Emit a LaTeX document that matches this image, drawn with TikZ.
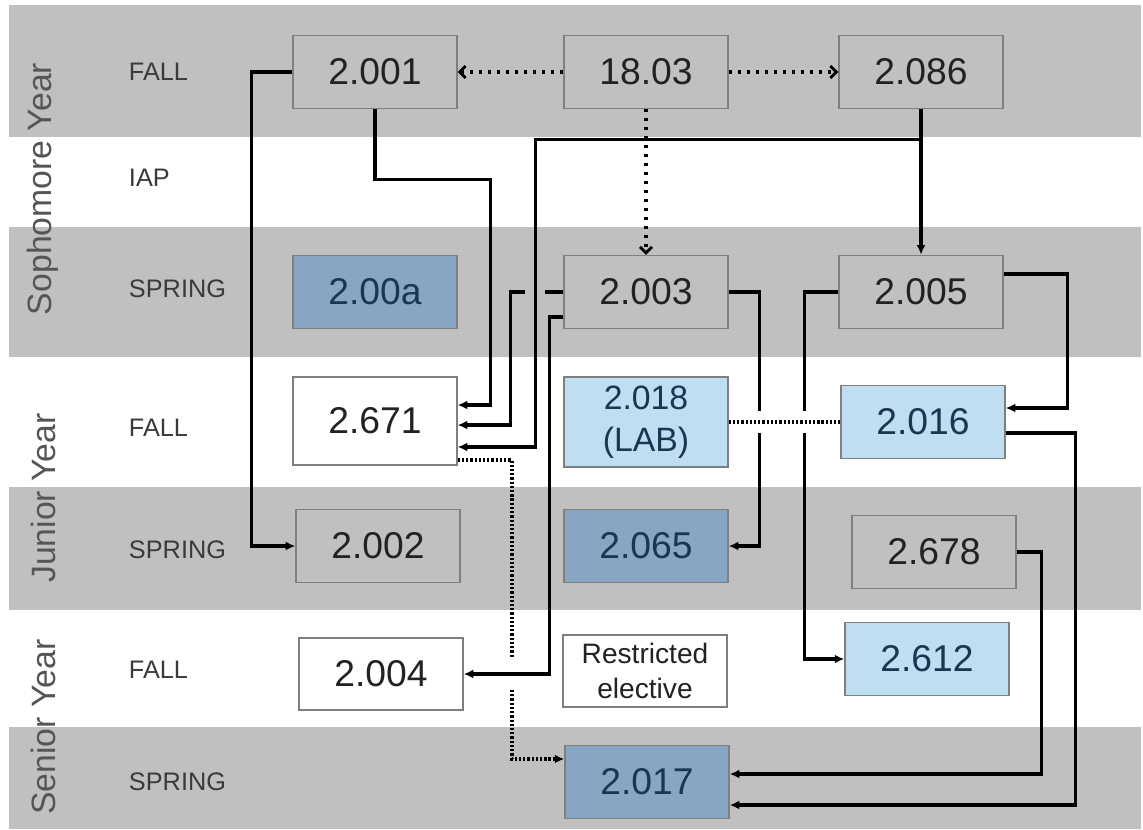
\documentclass[tikz,border=0pt]{standalone}
\usepackage{fontspec}
\setmainfont{Liberation Sans}
\usetikzlibrary{arrows.meta,calc}
\definecolor{band}{HTML}{C0C0C0}
\definecolor{edge}{HTML}{7F7F7F}
\definecolor{darkblue}{HTML}{86A6C3}
\definecolor{lightblue}{HTML}{BEDEF2}
\definecolor{navy}{HTML}{1C3550}
\definecolor{ink}{HTML}{222222}
\definecolor{termcol}{HTML}{3A3A3A}
\definecolor{yearcol}{HTML}{555555}
\begin{document}
\begin{tikzpicture}[x=0.025cm, y=-0.025cm,
    course/.style={draw=edge, line width=0.9pt, minimum width=4.1cm, minimum height=1.83cm,
      inner sep=0pt, align=center, text=ink, font=\fontsize{26.5}{30}\selectfont},
    greybox/.style={course, fill=band},
    darkbox/.style={course, fill=darkblue, text=navy},
    lightbox/.style={course, fill=lightblue, text=navy},
    whitebox/.style={course, fill=white},
    term/.style={anchor=west, text=termcol, font=\fontsize{18}{20}\selectfont},
    year/.style={rotate=90, text=yearcol, font=\fontsize{24}{26}\selectfont},
    conn/.style={line width=2.3pt, -{Latex[length=0.24cm, width=0.22cm]}},
    bare/.style={line width=2.3pt},
    dotarrow/.style={line width=2.3pt, dash pattern=on 2.3pt off 4.1pt,
      -{Straight Barb[length=0.15cm, width=0.3cm, line width=2pt]}},
    densedot/.style={line width=2.6pt, dash pattern=on 1.6pt off 1.4pt}]
    \useasboundingbox (0,0) rectangle (1143,829);
    \fill[white] (0,0) rectangle (1143,829);
    % bands
    \fill[band] (9,5) rectangle (1141,137);
    \fill[band] (9,227) rectangle (1141,357);
    \fill[band] (9,487) rectangle (1141,610);
    \fill[band] (9,727) rectangle (1141,829);
    % years and terms
    \node[year] (soph) at (43,189) {Sophomore Year};
    \node[year] (jun) at (43,498) {Junior Year};
    \node[year] (sen) at (43,727) {Senior Year};
    \node[term] (f1) at (124,72) {FALL};
    \node[term] (iap) at (124,178) {IAP};
    \node[term] (s1) at (124,289) {SPRING};
    \node[term] (f2) at (124,428) {FALL};
    \node[term] (s2) at (124,550) {SPRING};
    \node[term] (f3) at (124,670) {FALL};
    \node[term] (s3) at (124,782) {SPRING};
    % courses
    \node[greybox] (n2001) at (375,72) {2.001};
    \node[greybox] (n1803) at (646,72) {18.03};
    \node[greybox] (n2086) at (921,72) {2.086};
    \node[darkbox] (n200a) at (375,292) {2.00a};
    \node[greybox] (n2003) at (646,292) {2.003};
    \node[greybox] (n2005) at (921,292) {2.005};
    \node[whitebox, minimum height=2.2cm] (n2671) at (375,421) {2.671};
    \node[lightbox, minimum height=2.25cm, font=\fontsize{24}{30}\selectfont] (n2018) at (646,422) {2.018\\(LAB)};
    \node[lightbox] (n2016) at (923,422) {2.016};
    \node[greybox] (n2002) at (378,546) {2.002};
    \node[darkbox] (n2065) at (646,546) {2.065};
    \node[greybox] (n2678) at (934,552) {2.678};
    \node[whitebox, minimum height=1.8cm] (n2004) at (381,674) {2.004};
    \node[whitebox, minimum height=1.8cm, font=\fontsize{20}{25}\selectfont] (nre) at (645,671) {Restricted\\elective};
    \node[lightbox] (n2612) at (927,659) {2.612};
    \node[darkbox] (n2017) at (647,782) {2.017};
    % ports on 2.671
    \coordinate (p1) at ($(n2671.east)+(0,-16)$);
    \coordinate (p2) at ($(n2671.east)+(0,4)$);
    \coordinate (p3) at ($(n2671.east)+(0,26)$);
    \coordinate (p4) at ($(n2671.east)+(0,39)$);
    % 18.03 (dotted)
    \draw[dotarrow] (n1803.west) -- (n2001.east);
    \draw[dotarrow] (n1803.east) -- (n2086.west);
    \draw[dotarrow] (n1803.south) -- (n2003.north);
    % prerequisites
    \draw[conn] (n2001.west) -- ++(-41,0) |- (n2002.west);
    \draw[conn] (n2001.south) -- ++(0,70) -| ($(p1)+(33,0)$) -- (p1);
    \draw[conn] (n2086.south) -- (n2005.north);
    \draw[conn] (n2086.south) -- ++(0,30) -| ($(p3)+(78,0)$) -- (p3);
    \draw[bare] (n2003.west) -- ++(-18,0);
    \draw[conn] ($(n2003.west)+(-38,0)$) -| ($(p2)+(53,0)$) -- (p2);
    \draw[conn] ($(n2003.west)+(0,25)$) -- ++(-14,0) |- (n2004.east);
    \draw[conn] (n2003.east) -- ++(31,0) |- (n2065.east);
    \draw[conn] (n2005.west) -- ++(-34,0) |- (n2612.west);
    \draw[conn] ($(n2005.east)+(0,-18)$) -- ++(64,0) |- ($(n2016.east)+(0,-14)$);
    \draw[conn] ($(n2016.east)+(0,11)$) -- ++(70,0) |- ($(n2017.east)+(0,23)$);
    \draw[conn] (n2678.east) -- ++(25,0) |- ($(n2017.east)+(0,-8)$);
    % lab link and 2.671 -> 2.017
    \draw[densedot, preaction={draw=white, solid, line width=0.55cm, shorten <=2pt, shorten >=2pt}] (n2018.east) -- (n2016.west);
    \coordinate (d1) at (512,657);
    \coordinate (d2) at (512,690);
    \draw[densedot] (p4) -| (d1);
    \draw[densedot, -{Latex[length=0.24cm, width=0.22cm]}] (d2) |- ($(n2017.west)+(0,-23)$);
\end{tikzpicture}
\end{document}
